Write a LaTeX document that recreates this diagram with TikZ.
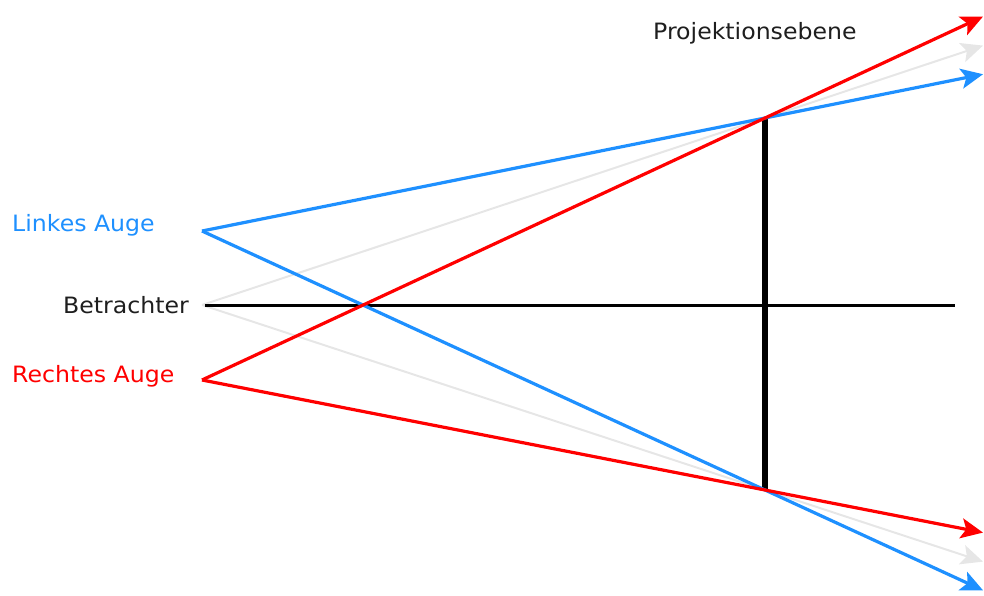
\documentclass[tikz,border=0pt]{standalone}
\usepackage{fontspec}
\setmainfont{DejaVu Sans}[FakeStretch=1.05]
\usetikzlibrary{arrows.meta,calc}
\definecolor{augeblau}{RGB}{30,144,255}
\definecolor{augerot}{RGB}{255,0,0}
\definecolor{mittegrau}{RGB}{230,230,230}
\definecolor{textschwarz}{RGB}{30,30,30}

\begin{document}
\begin{tikzpicture}[
  x=1pt, y=-1pt,
  font=\fontsize{22.5}{27}\selectfont,
  tip/.style  = {-{Stealth[length=22pt, width=20pt, inset=5pt]}},
  strahl/.style = {line width=3.2pt, line join=round},
  lbl/.style  = {anchor=base west, inner sep=0pt},
]
\useasboundingbox (0,0) rectangle (984,596);

% ================= points ==============================================
\coordinate (links)  at (202,231);
\coordinate (mitte)  at (202,305);
\coordinate (rechts) at (202,380);
\coordinate (oben)   at (765,118);
\coordinate (unten)  at (765,490);
\coordinate (achse)  at (955,305);
\coordinate (achsL)  at (205,305);
\def\weit{1.3872}

% ================= labels ==============================================
\node[lbl, text=augeblau] (tlinks) at (12,231) {Linkes Auge};
\node[lbl, anchor=base east, text=textschwarz] (tmitte) at (189,313) {Betrachter};
\node[lbl, text=augerot] (trechts) at (12,382) {Rechtes Auge};
\node[lbl, text=textschwarz] (tebene) at (653,40) {Projektionsebene};

% ================= rays ================================================
\draw[tip, mittegrau, line width=2pt] (mitte) -- ($(mitte)!\weit!(oben)$);
\draw[tip, mittegrau, line width=2pt] (mitte) -- ($(mitte)!\weit!(unten)$);

\draw[black, line width=3pt] (achsL) -- (achse);
\draw[black, line width=6pt] (oben) -- (unten);

\draw[tip, strahl, augeblau] (links) -- ($(links)!\weit!(oben)$);
\draw[tip, strahl, augeblau] (links) -- ($(links)!\weit!(unten)$);
\draw[tip, strahl, augerot] (rechts) -- ($(rechts)!\weit!(oben)$);
\draw[tip, strahl, augerot] (rechts) -- ($(rechts)!\weit!(unten)$);

\end{tikzpicture}
\end{document}
